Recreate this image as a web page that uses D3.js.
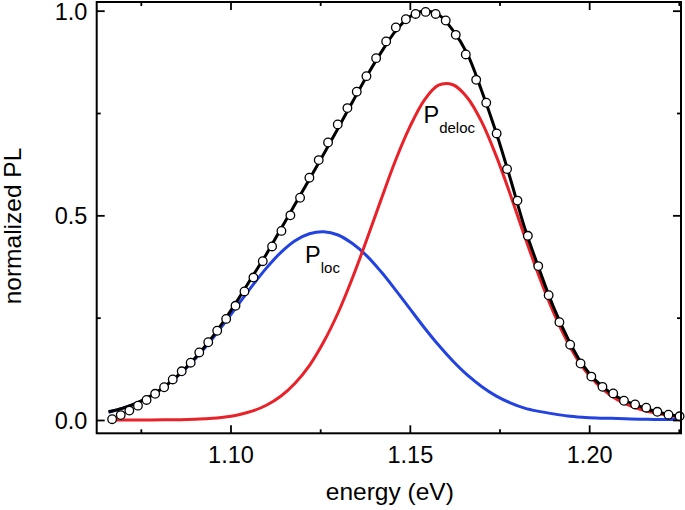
<!DOCTYPE html>
<html>
<head>
<meta charset="utf-8">
<script src="https://cdn.jsdelivr.net/npm/d3@7"></script>
<style>
  html, body { margin: 0; padding: 0; background: #fff; }
  svg { display: block; font-family: "Liberation Sans", Arial, Helvetica, sans-serif; }
</style>
</head>
<body>
<svg id="chart" width="685" height="510"></svg>
<script>
// ---------- data ----------
const curveEnergy = [1.066,1.070,1.074,1.078,1.082,1.086,1.090,1.094,1.098,1.102,1.106,1.110,1.114,1.118,1.122,1.126,1.130,1.134,1.138,1.142,1.146,1.150,1.154,1.158,1.162,1.166,1.170,1.174,1.178,1.182,1.186,1.190,1.194,1.198,1.202,1.206,1.210,1.214,1.218,1.222,1.2245];
const fitPL    = [0.020,0.029,0.042,0.060,0.084,0.114,0.150,0.192,0.240,0.293,0.349,0.405,0.466,0.527,0.588,0.650,0.713,0.777,0.840,0.898,0.950,0.985,0.999,0.990,0.952,0.895,0.805,0.704,0.590,0.470,0.370,0.277,0.200,0.137,0.095,0.066,0.047,0.034,0.022,0.014,0.010];
const locPL    = [0.019,0.029,0.042,0.060,0.084,0.113,0.148,0.188,0.233,0.280,0.327,0.371,0.409,0.438,0.455,0.460,0.452,0.431,0.401,0.362,0.318,0.272,0.226,0.183,0.144,0.110,0.082,0.059,0.042,0.029,0.021,0.015,0.010,0.007,0.005,0.004,0.003,0.002,0.0015,0.001,0.001];
const delocPL  = [0.000,0.000,0.0001,0.0002,0.0004,0.0009,0.0019,0.0036,0.0068,0.0124,0.0215,0.036,0.058,0.090,0.133,0.191,0.262,0.347,0.441,0.539,0.634,0.716,0.781,0.818,0.819,0.788,0.729,0.647,0.551,0.449,0.352,0.264,0.190,0.131,0.090,0.060,0.040,0.027,0.018,0.011,0.008];

const dataEnergy = [1.0670,1.0694,1.0718,1.0742,1.0766,1.0790,1.0815,1.0839,1.0864,1.0889,1.0913,1.0938,1.0963,1.0988,1.1014,1.1039,1.1064,1.1090,1.1116,1.1142,1.1167,1.1194,1.1220,1.1246,1.1272,1.1299,1.1326,1.1352,1.1379,1.1406,1.1434,1.1461,1.1489,1.1516,1.1544,1.1572,1.1600,1.1628,1.1656,1.1685,1.1713,1.1742,1.1771,1.1800,1.1829,1.1858,1.1887,1.1917,1.1947,1.1976,1.2006,1.2037,1.2067,1.2097,1.2128,1.2159,1.2190,1.2221,1.2252];
const dataPL     = [0.002,0.012,0.023,0.035,0.049,0.064,0.080,0.099,0.119,0.140,0.165,0.190,0.218,0.247,0.279,0.314,0.348,0.388,0.424,0.462,0.500,0.543,0.592,0.635,0.678,0.722,0.762,0.802,0.840,0.884,0.925,0.959,0.979,0.992,0.997,0.992,0.976,0.941,0.893,0.831,0.775,0.700,0.613,0.536,0.450,0.376,0.305,0.239,0.184,0.138,0.106,0.081,0.065,0.047,0.038,0.030,0.020,0.013,0.009];

const xMajorTicks = [1.10, 1.15, 1.20];
const xMinorTicks = [1.075, 1.125, 1.175, 1.225];
const yMajorTicks = [0.0, 0.5, 1.0];
const yMinorTicks = [0.25, 0.75];

const xTitle = "energy (eV)";
const yTitle = "normalized PL";
const labelLoc = { main: "P", sub: "loc", energy: 1.1208, value: 0.383 };
const labelDeloc = { main: "P", sub: "deloc", energy: 1.1538, value: 0.725 };

// ---------- layout ----------
const plot = { left: 96.7, right: 681, top: 2, bottom: 433.3 };
const svg = d3.select("#chart");

const x = d3.scaleLinear().domain([1.0627, 1.2256]).range([plot.left, plot.right]);
const y = d3.scaleLinear().domain([-0.0325, 1.0212]).range([plot.bottom, plot.top]);

const tickFont = 23.5, titleFont = 24.5;

// clip
svg.append("defs").append("clipPath").attr("id", "clip")
  .append("rect").attr("x", plot.left).attr("y", plot.top)
  .attr("width", plot.right - plot.left).attr("height", plot.bottom - plot.top);

const g = svg.append("g").attr("clip-path", "url(#clip)");

const line = d3.line().x((d, i) => x(curveEnergy[i])).curve(d3.curveCatmullRom.alpha(0.5));

g.append("path").datum(locPL)
  .attr("d", line.y(d => y(d)))
  .attr("fill", "none").attr("stroke", "#2343e0").attr("stroke-width", 3);

g.append("path").datum(delocPL)
  .attr("d", line.y(d => y(d)))
  .attr("fill", "none").attr("stroke", "#e82228").attr("stroke-width", 3);

g.append("path").datum(fitPL)
  .attr("d", line.y(d => y(d)))
  .attr("fill", "none").attr("stroke", "#000").attr("stroke-width", 3);

svg.append("g").selectAll("circle").data(dataPL).join("circle")
  .attr("cx", (d, i) => x(dataEnergy[i]))
  .attr("cy", d => y(d))
  .attr("r", 4.3)
  .attr("fill", "#fff").attr("stroke", "#000").attr("stroke-width", 1.3);

// ---------- axes ----------
function styleAxis(sel) {
  sel.select(".domain").remove();
  sel.selectAll(".tick line").attr("stroke", "#000").attr("stroke-width", 1.8);
  sel.selectAll("text").attr("fill", "#000").attr("font-size", tickFont)
     .attr("font-family", '"Liberation Sans", Arial, Helvetica, sans-serif');
}

// bottom
svg.append("g").attr("transform", `translate(0,${plot.bottom})`)
  .call(d3.axisBottom(x).tickValues(xMajorTicks).tickFormat(d3.format(".2f"))
    .tickSizeInner(-8).tickSizeOuter(0).tickPadding(13.3))
  .call(styleAxis);
svg.append("g").attr("transform", `translate(0,${plot.bottom})`)
  .call(d3.axisBottom(x).tickValues(xMinorTicks).tickFormat("")
    .tickSizeInner(-4).tickSizeOuter(0))
  .call(styleAxis);
// top
svg.append("g").attr("transform", `translate(0,${plot.top})`)
  .call(d3.axisTop(x).tickValues(xMajorTicks).tickFormat("")
    .tickSizeInner(-8).tickSizeOuter(0))
  .call(styleAxis);
svg.append("g").attr("transform", `translate(0,${plot.top})`)
  .call(d3.axisTop(x).tickValues(xMinorTicks).tickFormat("")
    .tickSizeInner(-4).tickSizeOuter(0))
  .call(styleAxis);
// left
svg.append("g").attr("transform", `translate(${plot.left},0)`)
  .call(d3.axisLeft(y).tickValues(yMajorTicks).tickFormat(d3.format(".1f"))
    .tickSizeInner(-8).tickSizeOuter(0).tickPadding(9.4))
  .call(styleAxis)
  .call(s => s.selectAll("text").attr("dy", "0.36em"));
svg.append("g").attr("transform", `translate(${plot.left},0)`)
  .call(d3.axisLeft(y).tickValues(yMinorTicks).tickFormat("")
    .tickSizeInner(-4).tickSizeOuter(0))
  .call(styleAxis);
// right
svg.append("g").attr("transform", `translate(${plot.right},0)`)
  .call(d3.axisRight(y).tickValues(yMajorTicks).tickFormat("")
    .tickSizeInner(-8).tickSizeOuter(0))
  .call(styleAxis);
svg.append("g").attr("transform", `translate(${plot.right},0)`)
  .call(d3.axisRight(y).tickValues(yMinorTicks).tickFormat("")
    .tickSizeInner(-4).tickSizeOuter(0))
  .call(styleAxis);

// frame
svg.append("rect")
  .attr("x", plot.left).attr("y", plot.top)
  .attr("width", plot.right - plot.left).attr("height", plot.bottom - plot.top)
  .attr("fill", "none").attr("stroke", "#000").attr("stroke-width", 2);

// titles
svg.append("text")
  .attr("x", (plot.left + plot.right) / 2 + 1).attr("y", 500)
  .attr("text-anchor", "middle").attr("font-size", titleFont).attr("fill", "#000")
  .text(xTitle);

svg.append("text")
  .attr("transform", `translate(21,226) rotate(-90)`)
  .attr("text-anchor", "middle").attr("font-size", titleFont).attr("fill", "#000")
  .text(yTitle);

// curve labels
function subLabel(lbl) {
  const t = svg.append("text")
    .attr("x", x(lbl.energy)).attr("y", y(lbl.value))
    .attr("font-size", tickFont).attr("fill", "#000");
  t.append("tspan").text(lbl.main);
  t.append("tspan").attr("font-size", 15).attr("dy", 9.4).text(lbl.sub);
}
subLabel(labelLoc);
subLabel(labelDeloc);
</script>
</body>
</html>
